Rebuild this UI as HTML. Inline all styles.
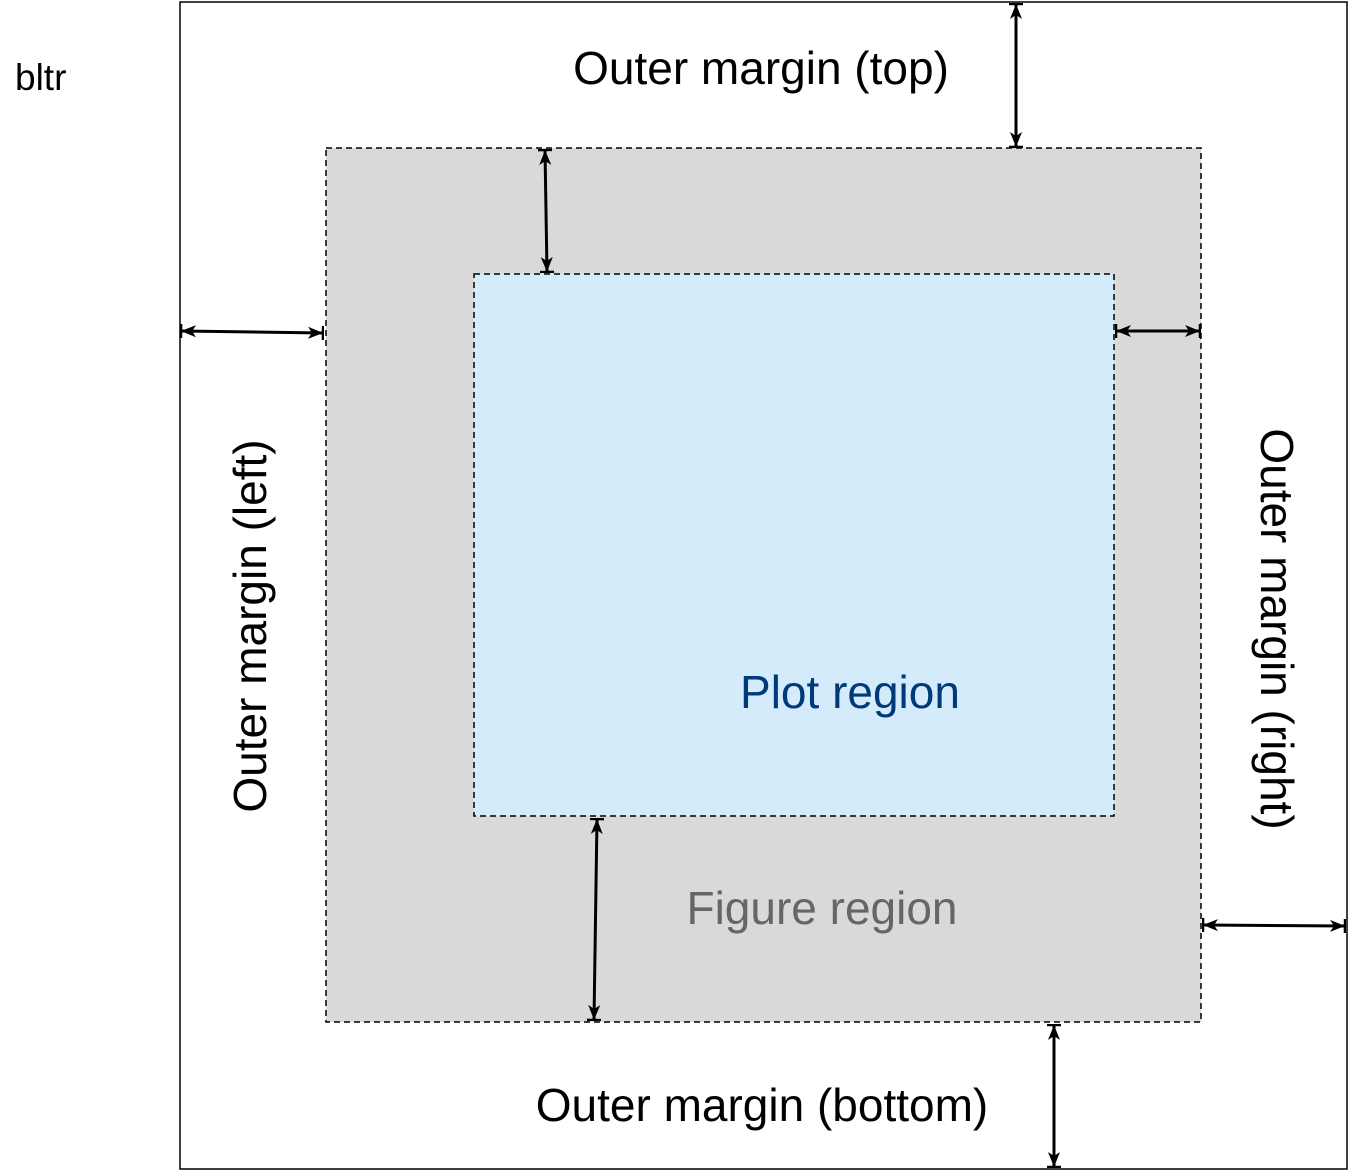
<!DOCTYPE html>
<html><head><meta charset="utf-8"><style>html,body{margin:0;padding:0;background:#fff}svg{display:block}</style></head>
<body>
<svg width="1351" height="1172" viewBox="0 0 1351 1172" xmlns="http://www.w3.org/2000/svg" font-family="'Liberation Sans', Arial, sans-serif">
<defs>
<marker id="a" viewBox="0 0 16 14" refX="15" refY="7" markerWidth="16" markerHeight="14" markerUnits="userSpaceOnUse" orient="auto-start-reverse">
<path d="M0,1 L15,7 L0,13 L4,7 Z" fill="#000"/>
<path d="M15,0 L15,14" stroke="#000" stroke-width="2.5"/>
</marker>
</defs>
<rect x="180" y="2" width="1167" height="1167" fill="#fff" stroke="#000" stroke-width="1.5"/>
<rect x="326" y="148" width="875" height="874" fill="#d9d9d9" stroke="#000" stroke-width="1.5" stroke-dasharray="6,4"/>
<rect x="474" y="274" width="640" height="542" fill="#d4ebfc" stroke="#000" stroke-width="1.5" stroke-dasharray="6,4"/>
<g stroke="#000" stroke-width="3" fill="none" marker-start="url(#a)" marker-end="url(#a)">
<line x1="1016" y1="4" x2="1016" y2="147"/>
<line x1="545" y1="150" x2="547" y2="272"/>
<line x1="181" y1="331" x2="323" y2="333"/>
<line x1="1116" y1="331" x2="1200" y2="331"/>
<line x1="597" y1="819" x2="594" y2="1020"/>
<line x1="1203" y1="925" x2="1345" y2="926"/>
<line x1="1054" y1="1025" x2="1054" y2="1167"/>
</g>
<text x="15" y="90" font-size="37">bltr</text>
<text x="761" y="84" font-size="46" text-anchor="middle">Outer margin (top)</text>
<text x="762" y="1121" font-size="46" text-anchor="middle">Outer margin (bottom)</text>
<text x="850" y="708" font-size="46" text-anchor="middle" fill="#003a78">Plot region</text>
<text x="822" y="924" font-size="46" text-anchor="middle" fill="#666">Figure region</text>
<text transform="translate(266,626) rotate(-90)" font-size="46" text-anchor="middle">Outer margin (left)</text>
<text transform="translate(1261,629) rotate(90)" font-size="46" text-anchor="middle">Outer margin (right)</text>
</svg>
</body></html>
